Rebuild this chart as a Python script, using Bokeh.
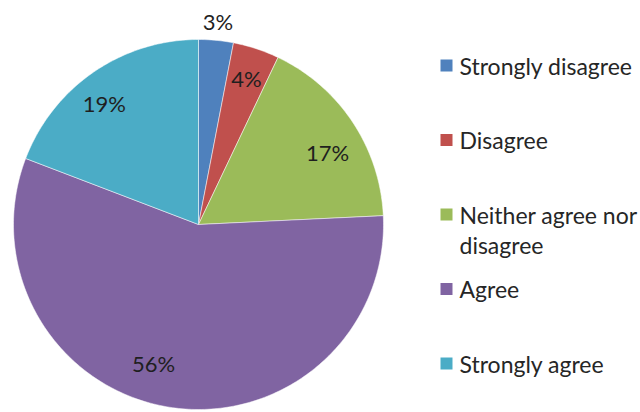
import numpy as np
from bokeh.plotting import figure
from bokeh.models import Range1d
from bokeh.core.properties import value
from bokeh.embed import file_html
from bokeh.resources import INLINE

categories = ["Strongly disagree", "Disagree", "Neither agree nor\ndisagree", "Agree", "Strongly agree"]
percents = [3, 4, 17, 56, 19]
colors = ["#4F81BD", "#C0504D", "#9BBB59", "#8064A2", "#4BACC6"]

# label placement (style): radial factor and angular shift in degrees
label_r = [1.10, 0.83, 0.80, 0.79, 0.83]
label_shift = [0, 0, 4.4, 8.8, -3.3]

W, H = 640, 412
CX, CY, R = 198, 224, 185

def px(x):
    return (x - CX) / R

def py(y):
    return (CY - y) / R

p = figure(width=W, height=H, output_backend="svg", toolbar_location=None,
           x_range=Range1d(px(0), px(W)), y_range=Range1d(py(H), py(0)),
           min_border=0)
p.axis.visible = False
p.grid.visible = False
p.outline_line_color = None
p.background_fill_color = "white"
p.border_fill_color = "white"

total = float(sum(percents))
cum = np.concatenate([[0], np.cumsum(percents)]) / total * 2 * np.pi
xs, ys = [], []
for i in range(len(percents)):
    a0, a1 = cum[i], cum[i + 1]
    n = max(4, int(np.degrees(a1 - a0)) + 2)
    t = np.linspace(a0, a1, n)
    xs.append([0.0] + list(np.sin(t)) + [0.0])
    ys.append([0.0] + list(np.cos(t)) + [0.0])
p.patches(xs, ys, fill_color=colors, line_color="white", line_width=1, line_alpha=0.5)

lx, ly, lt = [], [], []
for i, v in enumerate(percents):
    mid = (cum[i] + cum[i + 1]) / 2 + np.radians(label_shift[i])
    lx.append(label_r[i] * np.sin(mid))
    ly.append(label_r[i] * np.cos(mid))
    lt.append(f"{v}%")
p.text(lx, ly, text=lt, text_align="center", text_baseline="middle",
       text_font=value("Lato"), text_font_size="22px", text_color="#1f1f1f")

# legend drawn manually
leg_y0, leg_dy, line_dy = 65, 74.5, 30
sq_x, txt_x = 446, 459
for i, name in enumerate(categories):
    lines = name.split("\n")
    yc = leg_y0 + i * leg_dy
    p.scatter([px(sq_x)], [py(yc)], marker="square", size=12, fill_color=colors[i], line_color=None)
    for j, ln in enumerate(lines):
        p.text([px(txt_x)], [py(yc + j * line_dy)], text=[ln], text_align="left", text_baseline="middle",
               text_font=value("Lato"), text_font_size="23px", text_color="#262626")

open("out.html", "w").write(file_html(p, INLINE))
